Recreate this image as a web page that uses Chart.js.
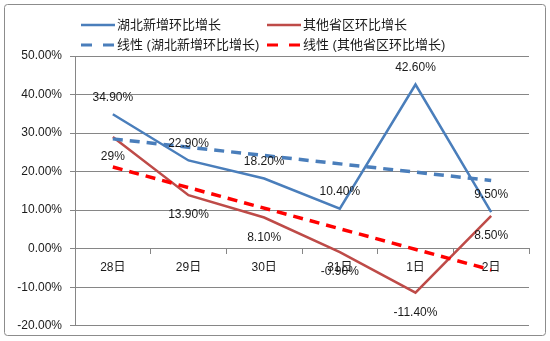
<!DOCTYPE html>
<html>
<head>
<meta charset="utf-8">
<script src="https://cdn.jsdelivr.net/npm/chart.js@4"></script>
<style>
  html, body { margin: 0; padding: 0; background: #fff; }
</style>
</head>
<body>
<canvas id="growth" width="550" height="341"></canvas>
<script>
// data
const days = ['28日', '29日', '30日', '31日', '1日', '2日']
const hubeiGrowth = [34.9, 22.9, 18.2, 10.4, 42.6, 9.5]
const otherGrowth = [29, 13.9, 8.1, -0.9, -11.4, 8.5]
const hubeiLabels = ['34.90%', '22.90%', '18.20%', '10.40%', '42.60%', '9.50%']
const otherLabels = ['29%', '13.90%', '8.10%', '-0.90%', '-11.40%', '8.50%']
// trend lines: only the two ends, straight line between them
const hubeiTrend = [28.5, null, null, null, null, 17.7]
const otherTrend = [21.2, null, null, null, null, -5.5]
const yMin = -20
const yMax = 50
const yStep = 10

const numFont = '"Liberation Sans", Arial, sans-serif'
const cjkFont = '"Liberation Sans", "Noto Sans CJK SC", sans-serif'

/*
 * outer frame of the picture
 */
const framePlugin = {
    id: 'frame',
    beforeDraw(chart) {
        const ctx = chart.ctx
        ctx.save()
        ctx.fillStyle = '#fff'
        ctx.fillRect(0, 0, chart.width, chart.height)
        ctx.strokeStyle = '#8c8c8c'
        ctx.lineWidth = 1
        ctx.beginPath()
        ctx.roundRect(4.5, 4.5, 541, 331, 3)
        ctx.stroke()
        ctx.restore()
    }
}

/*
 * legend in two rows, two columns
 */
const legendPlugin = {
    id: 'twoRowLegend',
    afterDraw(chart) {
        const ctx = chart.ctx
        const spots = [[81, 25], [267, 25], [81, 45], [267, 45]]
        ctx.save()
        ctx.font = '13px ' + cjkFont
        ctx.textBaseline = 'middle'
        chart.data.datasets.forEach((ds, i) => {
            const [x, y] = spots[i]
            ctx.beginPath()
            ctx.strokeStyle = ds.borderColor
            ctx.lineWidth = ds.borderDash ? 3 : 2.5
            ctx.setLineDash(ds.borderDash ? [11, 11] : [])
            ctx.moveTo(x, y)
            ctx.lineTo(x + 34, y)
            ctx.stroke()
            ctx.setLineDash([])
            ctx.fillStyle = '#1a1a1a'
            ctx.fillText(ds.label, x + 36, y)
        })
        ctx.restore()
    }
}

/*
 * value labels: blue above the point, red below
 */
const valuePlugin = {
    id: 'values',
    afterDatasetsDraw(chart) {
        const ctx = chart.ctx
        ctx.save()
        ctx.font = '12px ' + numFont
        ctx.fillStyle = '#1a1a1a'
        ctx.textAlign = 'center'
        ctx.textBaseline = 'middle'
        const sets = [[0, hubeiLabels, -17], [1, otherLabels, 20]]
        sets.forEach(([idx, texts, shift]) => {
            chart.getDatasetMeta(idx).data.forEach((pt, i) => {
                ctx.fillText(texts[i], pt.x, pt.y + shift)
            })
        })
        ctx.restore()
    }
}

const growthConfig = {
    type: 'line',
    data: {
        labels: days,
        datasets: [
            {
                label: '湖北新增环比增长',
                data: hubeiGrowth,
                borderColor: '#4a7ebb',
                borderWidth: 2.5,
                order: 1
            },
            {
                label: '其他省区环比增长',
                data: otherGrowth,
                borderColor: '#be4b48',
                borderWidth: 2.5,
                order: 1
            },
            {
                label: '线性 (湖北新增环比增长)',
                data: hubeiTrend,
                borderColor: '#4a7ebb',
                borderWidth: 3.5,
                borderDash: [10, 7],
                spanGaps: true,
                order: 0
            },
            {
                label: '线性 (其他省区环比增长)',
                data: otherTrend,
                borderColor: '#ff0000',
                borderWidth: 3.5,
                borderDash: [10, 7],
                spanGaps: true,
                order: 0
            }
        ]
    },
    options: {
        responsive: false,
        animation: false,
        devicePixelRatio: 1,
        layout: { padding: { top: 56, right: 21, bottom: 15, left: 0 } },
        elements: {
            point: { radius: 0, hoverRadius: 0 },
            line: { tension: 0, fill: false, borderCapStyle: 'butt' }
        },
        plugins: {
            legend: { display: false },
            tooltip: { enabled: false }
        },
        scales: {
            x: {
                position: { y: 0 },
                offset: true,
                afterFit(scale) { scale.height = 0 },
                grid: {
                    offset: true,
                    drawOnChartArea: false,
                    tickLength: 5,
                    color: '#868686'
                },
                border: { display: true, color: '#868686' },
                ticks: {
                    padding: 7,
                    color: '#1a1a1a',
                    maxRotation: 0,
                    font: { family: cjkFont, size: 12 }
                }
            },
            y: {
                min: yMin,
                max: yMax,
                afterFit(scale) { scale.width = 75 },
                grid: {
                    color: '#868686',
                    tickLength: 5
                },
                border: { display: true, color: '#868686' },
                ticks: {
                    stepSize: yStep,
                    padding: 8,
                    color: '#1a1a1a',
                    font: { family: numFont, size: 12 },
                    callback: v => v.toFixed(2) + '%'
                }
            }
        }
    },
    plugins: [framePlugin, legendPlugin, valuePlugin]
}

var growthCanvas = document.getElementById('growth')

var growthChart = new Chart(growthCanvas, growthConfig)
</script>
</body>
</html>
